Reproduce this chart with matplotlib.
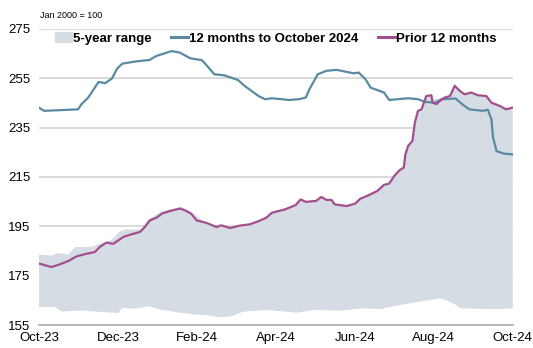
import matplotlib
matplotlib.use("Agg")
import matplotlib.pyplot as plt
from matplotlib.patches import Patch
from matplotlib.lines import Line2D

plt.rcParams['font.family'] = ['Liberation Sans', 'DejaVu Sans']

# months since Oct-23 and index values (Jan 2000 = 100)
tick_labels = ['Oct-23', 'Dec-23', 'Feb-24', 'Apr-24', 'Jun-24', 'Aug-24', 'Oct-24']

recent_m = [0, 0.13, 0.73, 0.99, 1.08, 1.25, 1.51, 1.68, 1.85, 1.98, 2.11, 2.45,
            2.80, 2.97, 3.36, 3.57, 3.83, 4.13, 4.26, 4.44, 4.69, 5.04, 5.21,
            5.56, 5.73, 5.90, 6.33, 6.59, 6.76, 6.85, 7.06, 7.28, 7.54, 7.97,
            8.10, 8.27, 8.40, 8.74, 8.87, 9.35, 9.60, 9.78, 10.03, 10.21, 10.55,
            10.72, 10.90, 11.24, 11.37, 11.46, 11.50, 11.59, 11.76, 12.0]
recent_v = [243.1, 241.8, 242.2, 242.4, 244.5, 247.2, 253.5, 253.0, 254.9, 258.9,
            260.9, 261.8, 262.4, 264.0, 266.0, 265.4, 263.1, 262.3, 260.0, 256.6,
            256.2, 254.3, 251.9, 247.8, 246.5, 246.9, 246.2, 246.5, 247.2, 250.5,
            256.6, 258.0, 258.4, 257.0, 257.3, 254.6, 251.2, 249.2, 246.2, 246.9,
            246.5, 245.4, 245.1, 246.5, 246.8, 244.5, 242.4, 241.8, 242.2, 238.4,
            231.0, 225.5, 224.5, 224.1]

prior_m = [0, 0.32, 0.53, 0.74, 0.95, 1.21, 1.42, 1.54, 1.71, 1.88, 2.14, 2.35,
           2.56, 2.68, 2.81, 2.98, 3.11, 3.32, 3.57, 3.70, 3.86, 3.99, 4.24, 4.50,
           4.62, 4.84, 5.09, 5.34, 5.55, 5.76, 5.90, 6.24, 6.50, 6.63, 6.76, 7.02,
           7.15, 7.28, 7.41, 7.49, 7.79, 8.01, 8.14, 8.31, 8.57, 8.74, 8.87, 9.00,
           9.13, 9.24, 9.28, 9.35, 9.46, 9.52, 9.60, 9.69, 9.81, 9.94, 9.97, 10.07,
           10.15, 10.28, 10.41, 10.53, 10.66, 10.78, 10.95, 11.12, 11.33, 11.46,
           11.67, 11.83, 12.0]
prior_v = [179.9, 178.5, 179.6, 180.9, 182.8, 183.9, 184.6, 186.6, 188.4, 187.9,
           190.7, 191.8, 192.7, 194.7, 197.4, 198.5, 200.1, 201.2, 202.2, 201.5,
           200.1, 197.4, 196.4, 194.7, 195.4, 194.3, 195.3, 195.8, 197.0, 198.5,
           200.5, 201.9, 203.6, 205.9, 204.9, 205.3, 206.9, 205.7, 205.7, 203.9,
           203.2, 204.2, 206.2, 207.3, 209.3, 211.8, 212.3, 215.4, 217.7, 218.8,
           224.0, 227.6, 229.6, 237.0, 241.8, 242.4, 247.8, 248.1, 245.1, 244.5,
           245.8, 247.2, 247.8, 251.9, 249.9, 248.5, 249.2, 248.1, 247.8, 245.1,
           243.8, 242.4, 243.1]

range_top_m = [0, 0.32, 0.49, 0.74, 0.91, 1.16, 1.37, 1.59, 1.84, 2.05, 2.22, 2.39,
               2.6, 2.77, 3.1, 3.61, 3.95, 4.12, 4.24, 4.50, 4.62, 4.84, 5.09, 5.34,
               5.55, 5.76, 5.90, 6.24, 6.50, 6.63, 6.76, 7.02, 7.15, 7.28, 7.41,
               7.49, 7.79, 8.01, 8.14, 8.31, 8.57, 8.74, 8.87, 9.00, 9.13, 9.24,
               9.28, 9.35, 9.46, 9.52, 9.60, 9.69, 9.81, 9.94, 10.0, 10.15, 10.28,
               10.41, 10.53, 10.66, 10.78, 10.95, 11.12, 11.33, 11.46, 11.67, 11.83,
               12.0]
range_top_v = [183.5, 183.1, 184.2, 183.5, 186.6, 186.5, 186.9, 188.2, 189.6, 193.0,
               193.9, 193.6, 193.9, 197.7, 201.1, 202.8, 199.7, 197.7, 196.4, 194.7,
               195.4, 194.3, 195.3, 195.8, 197.0, 198.5, 200.5, 201.9, 203.6, 205.9,
               204.9, 205.3, 206.9, 205.7, 205.7, 203.9, 203.2, 204.2, 206.2, 207.3,
               209.3, 211.8, 212.3, 215.4, 217.7, 218.8, 224.0, 227.6, 229.6, 237.0,
               241.8, 242.4, 247.8, 248.1, 246.5, 246.8, 247.2, 247.8, 251.9, 249.9,
               248.5, 249.2, 248.1, 247.8, 245.1, 243.8, 242.4, 243.1]

range_low_m = [0, 0.4, 0.57, 1.08, 1.59, 2.01, 2.11, 2.43, 2.77, 3.1, 3.52, 3.95,
               4.37, 4.58, 4.84, 5.17, 5.77, 6.53, 6.94, 7.62, 8.2, 8.63, 9.14, 9.65,
               10.15, 10.35, 10.57, 10.66, 11.24, 11.67, 12.0]
range_low_v = [162.3, 162.3, 160.5, 160.9, 160.3, 159.9, 161.9, 161.6, 162.6, 161.2,
               160.1, 159.3, 158.8, 158.1, 158.4, 160.4, 161.1, 160.0, 161.1, 160.8,
               161.8, 161.4, 163.1, 164.5, 165.8, 164.9, 163.1, 161.8, 161.5, 161.4,
               161.8]

blue = '#5a8aa2'
purple = '#a34f8e'
shade = '#d5dce4'
grid = '#d3d3d3'

fig = plt.figure(figsize=(5.33, 3.48), dpi=100)
ax = fig.add_axes([0.073, 0.066, 0.889, 0.851])

# 5-year range as a polygon: top edge then bottom edge reversed
ax.fill(range_top_m + range_low_m[::-1], range_top_v + range_low_v[::-1],
        color=shade, lw=0, zorder=2)
ax.plot(recent_m, recent_v, color=blue, lw=1.6, zorder=3)
ax.plot(prior_m, prior_v, color=purple, lw=1.6, zorder=4)

ax.set_xlim(0, 12)
ax.set_ylim(155, 275)
ax.set_yticks(range(155, 276, 20))
ax.set_xticks(range(0, 13, 2))
ax.set_xticklabels(tick_labels)
ax.tick_params(length=0, labelsize=9.5, colors='black')
ax.tick_params(axis='y', pad=6)
ax.tick_params(axis='x', pad=5)
ax.grid(axis='y', color=grid, lw=1.2)
ax.set_axisbelow(True)
for s in ['top', 'right', 'left']:
    ax.spines[s].set_visible(False)
ax.spines['bottom'].set_color('#b0b0b0')
ax.spines['bottom'].set_linewidth(1.2)

fig.text(0.075, 0.955, 'Jan 2000 = 100', fontsize=6.5, va='center')

handles = [Patch(color=shade),
           Line2D([], [], color=blue, lw=2.2),
           Line2D([], [], color=purple, lw=2.2)]
labels = ['5-year range', '12 months to October 2024', 'Prior 12 months']
ax.legend(handles, labels, ncol=3, loc='upper center', bbox_to_anchor=(0.5, 1.028),
          frameon=False, handlelength=1.25, handletextpad=0.1, columnspacing=1.5,
          prop={'weight': 'bold', 'size': 9.5})

fig.savefig('out.png', dpi=100)
